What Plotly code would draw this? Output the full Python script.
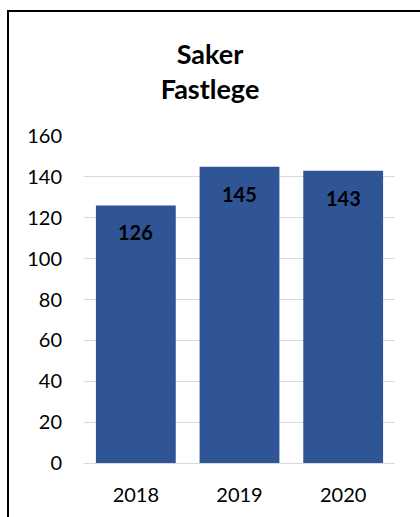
import plotly.graph_objects as go

years = ["2018", "2019", "2020"]
values = [126, 145, 143]
y_ticks = [0, 20, 40, 60, 80, 100, 120, 140, 160]
title_lines = ["Saker", "Fastlege"]

BAR = "#2F5597"
FONT = "Lato"

fig = go.Figure()
fig.add_trace(go.Bar(x=years, y=values, marker=dict(color=BAR, line=dict(width=0)),
                     hoverinfo="skip"))

for i, v in enumerate(values):
    fig.add_annotation(x=i, y=v, text="<b>%d</b>" % v, showarrow=False,
                       yanchor="middle", yshift=-27,
                       font=dict(family=FONT, size=20, color="black"))

L, R, T, B = 84, 25, 136, 54
W, H = 420, 517
pw, ph = W - L - R, H - T - B
bx = (8 - L) / pw
by = 1 + (T - 11) / ph
fig.add_shape(type="path", xref="paper", yref="paper",
              path=f"M {bx} -1 L {bx} {by} L 3 {by}",
              line=dict(color="black", width=2))

fig.update_layout(
    width=W, height=H,
    margin=dict(l=L, r=R, t=T, b=B),
    paper_bgcolor="white", plot_bgcolor="white",
    bargap=0.23,
    showlegend=False,
    title=dict(text="<b>" + "<br>".join(title_lines) + "</b>",
               x=0.5, xref="container", y=0.877, yref="container", yanchor="middle",
               font=dict(family=FONT, size=27, color="black")),
    font=dict(family=FONT, size=20, color="black"),
)
fig.update_yaxes(range=[0, 160], tickvals=y_ticks, showgrid=True, gridcolor="#D9D9D9",
                 gridwidth=1, zeroline=True, zerolinecolor="#D9D9D9", zerolinewidth=1,
                 showline=False, ticks="", ticklabelstandoff=21,
                 tickfont=dict(family=FONT, size=20, color="black"))
fig.update_xaxes(type="category", range=[-0.5, len(years) - 0.5], showline=False, ticks="",
                 ticklabelstandoff=18, showgrid=False,
                 tickfont=dict(family=FONT, size=20, color="black"))

fig.write_html("out.html")
